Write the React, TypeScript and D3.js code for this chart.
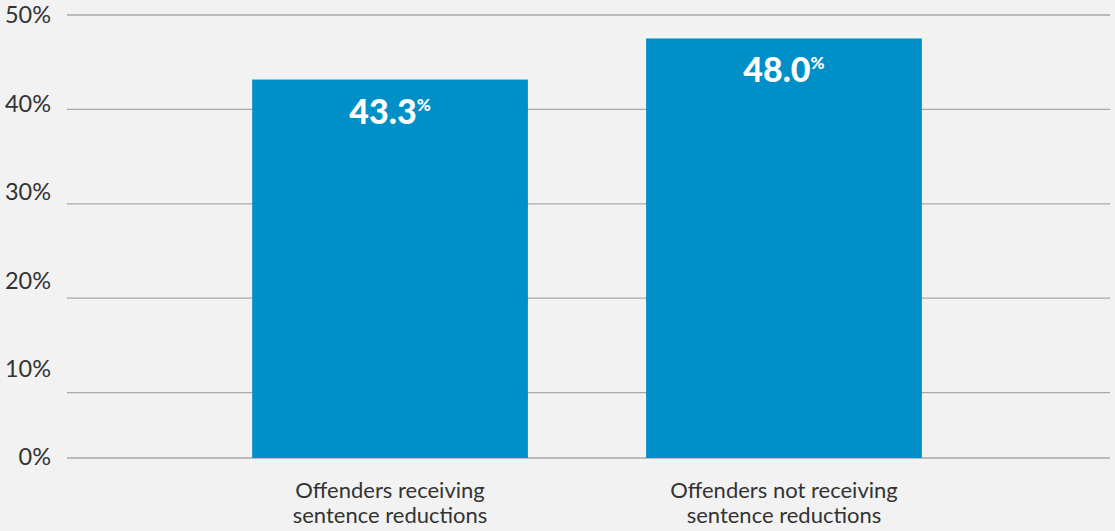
import React from "react";
import * as d3 from "d3";

const categories: string[][] = [
  ["Offenders receiving", "sentence reductions"],
  ["Offenders not receiving", "sentence reductions"],
];
const values: number[] = [43.3, 48.0];
const tickValues: number[] = [0, 10, 20, 30, 40, 50];

const W = 1115;
const H = 531;

export default function App() {
  const keys = categories.map((c) => c.join(" "));
  const x = d3
    .scaleBand<string>()
    .domain(keys)
    .range([67, 1107])
    .paddingInner(0.3)
    .paddingOuter(0.47);
  // bar scale
  const yBar = d3.scaleLinear().domain([0, 50]).range([458, 21]);
  // tick label scale
  const yLab = d3.scaleLinear().domain([0, 50]).range([457, 15]);
  // gridline scale (as drawn in the original)
  const yGrid = d3.scaleLinear().domain([0, 50]).range([487, 15]);

  const font = "Lato, 'Open Sans', sans-serif";

  return (
    <svg
      width={W}
      height={H}
      style={{ position: "absolute", left: 0, top: 0, display: "block" }}
    >
      <rect width={W} height={H} fill="#f2f2f2" />
      {tickValues.map((t) => {
        const gy = t === 0 ? yBar(0) : yGrid(t);
        return (
          <g key={t}>
            <line
              x1={67}
              x2={1110}
              y1={gy}
              y2={gy}
              stroke="#a9a9a9"
              strokeWidth={1.3}
            />
            <text
              x={51}
              y={yLab(t)}
              dy="0.36em"
              textAnchor="end"
              fontFamily={font}
              fontSize={23.5}
              fill="#333"
            >
              {t}%
            </text>
          </g>
        );
      })}
      {values.map((v, i) => {
        const k = keys[i];
        const bx = x(k)!;
        const bw = x.bandwidth();
        const top = yBar(v);
        return (
          <g key={k}>
            <rect x={bx} y={top} width={bw} height={yBar(0) - top} fill="#008fc6" />
            <text
              x={bx + bw / 2}
              y={top + 44}
              textAnchor="middle"
              fontFamily={font}
              fontWeight={900}
              fontSize={34}
              fill="#fff"
            >
              {v.toFixed(1)}
              <tspan fontSize={17} dy={-13}>
                %
              </tspan>
            </text>
            {categories[i].map((line, j) => (
              <text
                key={j}
                x={bx + bw / 2}
                y={498 + j * 25}
                textAnchor="middle"
                fontFamily={font}
                fontSize={22}
                fill="#333"
              >
                {line}
              </text>
            ))}
          </g>
        );
      })}
    </svg>
  );
}
